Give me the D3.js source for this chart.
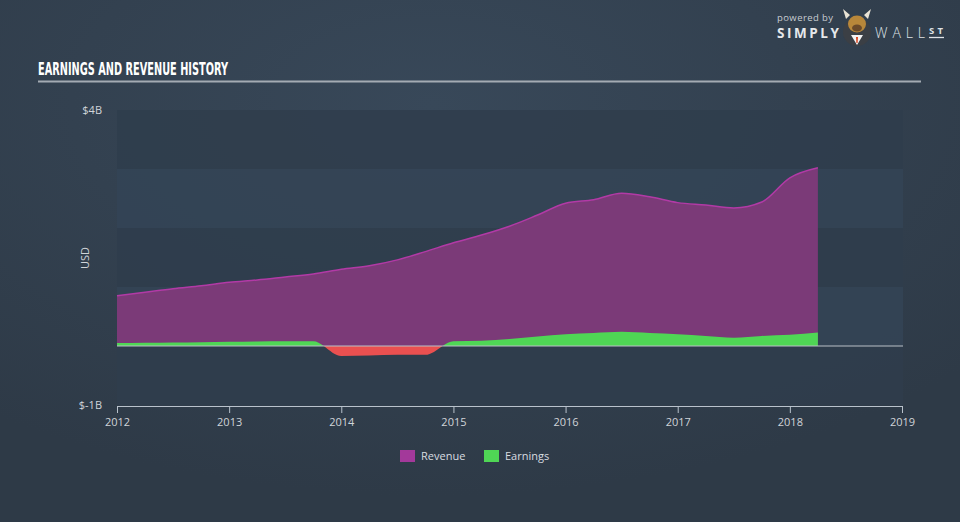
<!DOCTYPE html>
<html><head><meta charset="utf-8">
<script src="https://cdn.jsdelivr.net/npm/d3@7/dist/d3.min.js"></script>
<style>
html,body{margin:0;padding:0;background:#333f4e;}
svg{display:block;}
</style></head>
<body>
<svg id="chart" width="960" height="522"></svg>
<script>
const dates = [2012.0,2012.25,2012.5,2012.75,2013.0,2013.25,2013.5,2013.75,2014.0,2014.25,2014.5,2014.75,2015.0,2015.25,2015.5,2015.75,2016.0,2016.25,2016.5,2016.75,2017.0,2017.25,2017.5,2017.75,2018.0,2018.25];
const revenue = [0.85,0.91,0.97,1.02,1.08,1.12,1.17,1.22,1.30,1.36,1.46,1.60,1.75,1.88,2.03,2.22,2.42,2.48,2.59,2.53,2.43,2.39,2.34,2.44,2.85,3.02];
const earnings = [0.05,0.055,0.06,0.065,0.07,0.075,0.08,0.08,-0.17,-0.16,-0.15,-0.15,0.08,0.09,0.12,0.16,0.20,0.22,0.24,0.22,0.20,0.17,0.14,0.17,0.19,0.23];
const yTicks = [4,-1];
const yTickLabels = ["$4B","$-1B"];
const xTicks = [2012,2013,2014,2015,2016,2017,2018,2019];
const legendItems = ["Revenue","Earnings"];
const legendColors = ["#a3399a","#4fd655"];

const svg = d3.select("#chart");
const defs = svg.append("defs");
const rg = defs.append("radialGradient").attr("id","bg").attr("cx","45%").attr("cy","20%").attr("r","75%");
rg.append("stop").attr("offset","0%").attr("stop-color","#384859");
rg.append("stop").attr("offset","100%").attr("stop-color","#2e3a47");
svg.append("rect").attr("width",960).attr("height",522).attr("fill","url(#bg)");

const x = d3.scaleLinear().domain([2012,2019]).range([117,902]);
const y = d3.scaleLinear().domain([-1,4]).range([405,110]);

// bands
const bandEdges = [4,3,2,1,0,-1];
for (let i=0;i<bandEdges.length-1;i++){
  svg.append("rect").attr("x",117).attr("width",786)
    .attr("y",y(bandEdges[i])).attr("height",y(bandEdges[i+1])-y(bandEdges[i]))
    .attr("fill", i%2===0 ? "#2f3d4c" : "#344456").attr("opacity",0.85);
}

const data = dates.map((d,i)=>({d, r:revenue[i], e:earnings[i]}));
const curve = d3.curveMonotoneX;

svg.append("path").datum(data)
  .attr("d", d3.area().x(p=>x(p.d)).y0(y(0)).y1(p=>y(p.r)).curve(curve))
  .attr("fill","#7b3a78");
svg.append("path").datum(data)
  .attr("d", d3.line().x(p=>x(p.d)).y(p=>y(p.r)).curve(curve))
  .attr("fill","none").attr("stroke","#b23aa6").attr("stroke-width",1.5);

// earnings clipped pos / neg
defs.append("clipPath").attr("id","pos").append("rect").attr("x",0).attr("y",0).attr("width",960).attr("height",y(0));
defs.append("clipPath").attr("id","neg").append("rect").attr("x",0).attr("y",y(0)).attr("width",960).attr("height",200);
const eArea = d3.area().x(p=>x(p.d)).y0(y(0)).y1(p=>y(p.e)).curve(curve);
svg.append("path").datum(data).attr("d",eArea).attr("fill","#4fd655").attr("clip-path","url(#pos)");
svg.append("path").datum(data).attr("d",eArea).attr("fill","#ea5050").attr("clip-path","url(#neg)");

// zero line
svg.append("line").attr("x1",117).attr("x2",903).attr("y1",y(0)).attr("y2",y(0))
  .attr("stroke","#b9bfc6").attr("stroke-width",1.2);

// x axis
const xa = svg.append("g").attr("transform",`translate(0,${y(-1)+1})`)
  .call(d3.axisBottom(x).tickValues(xTicks).tickFormat(d3.format("d")).tickSize(7).tickSizeOuter(0));
xa.select(".domain").attr("stroke","#b9c2cc");
xa.selectAll(".tick line").attr("stroke","#b9c2cc");
xa.selectAll("text").attr("fill","#d0d4d9").attr("font-family","'Open Sans',sans-serif").attr("font-size",11).attr("dy","0.9em");

// y labels
svg.selectAll(".ylab").data(yTicks).enter().append("text")
  .attr("x",102).attr("y",d=>y(d)+4).attr("text-anchor","end")
  .attr("fill","#d0d4d9").attr("font-family","'Open Sans',sans-serif").attr("font-size",11)
  .text((d,i)=>yTickLabels[i]);
svg.append("text").attr("transform","translate(89,258) rotate(-90)").attr("text-anchor","middle")
  .attr("fill","#d0d4d9").attr("font-family","'Open Sans',sans-serif").attr("font-size",11).text("USD");

// title
svg.append("text").attr("x",38).attr("y",75).attr("fill","#ffffff")
  .attr("font-family","'Liberation Sans Narrow','DejaVu Sans Condensed',sans-serif").attr("font-weight","bold")
  .attr("font-size",17).attr("textLength",190).attr("lengthAdjust","spacingAndGlyphs")
  .text("EARNINGS AND REVENUE HISTORY");
svg.append("line").attr("x1",38).attr("x2",921).attr("y1",81.5).attr("y2",81.5).attr("stroke","#a4abb3").attr("stroke-width",2);

// legend
const lg = svg.append("g");
const lx = [400,484];
legendItems.forEach((t,i)=>{
  lg.append("rect").attr("x",lx[i]).attr("y",450).attr("width",15).attr("height",12).attr("fill",legendColors[i]);
  lg.append("text").attr("x",lx[i]+21).attr("y",460).attr("fill","#d8dce0")
    .attr("font-family","'Open Sans',sans-serif").attr("font-size",11).text(t);
});

// logo
const logo = svg.append("g");
logo.append("text").attr("x",777).attr("y",21).attr("fill","#c8ccd2").attr("font-family","'Open Sans',sans-serif").attr("font-size",9.5).attr("textLength",56).text("powered by");
logo.append("text").attr("x",777).attr("y",38).attr("fill","#e6e8eb").attr("font-family","'Open Sans',sans-serif").attr("font-weight","bold").attr("font-size",13.5).attr("textLength",62).attr("lengthAdjust","spacing").text("SIMPLY");
logo.append("circle").attr("cx",857).attr("cy",32).attr("r",14).attr("fill","#3b3f45");
logo.append("path").attr("d","M846,19 L843,9 L850,15 Z M868,19 L871,9 L864,15 Z").attr("fill","#e9e3d5");
logo.append("ellipse").attr("cx",857).attr("cy",24).attr("rx",9).attr("ry",8.5).attr("fill","#b8873a");
logo.append("ellipse").attr("cx",857).attr("cy",28).attr("rx",5).attr("ry",3.5).attr("fill","#6b4a2a");
logo.append("path").attr("d","M851,35 L857,45 L863,35 Z").attr("fill","#f2f2f2");
logo.append("path").attr("d","M856,37 L858,37 L857.6,43 L856.4,43 Z").attr("fill","#d9451f");
logo.append("text").attr("x",875).attr("y",38).attr("fill","#dfe2e6").attr("font-family","'Open Sans',sans-serif").attr("font-weight","300").attr("font-size",14).attr("textLength",50).attr("lengthAdjust","spacing").text("WALL");
logo.append("text").attr("x",929).attr("y",34).attr("fill","#dfe2e6").attr("font-family","'Open Sans',sans-serif").attr("font-weight","bold").attr("font-size",9.5).attr("textLength",14).text("ST");
logo.append("line").attr("x1",929).attr("x2",944).attr("y1",37.5).attr("y2",37.5).attr("stroke","#dfe2e6").attr("stroke-width",1.3);
</script>
</body></html>
